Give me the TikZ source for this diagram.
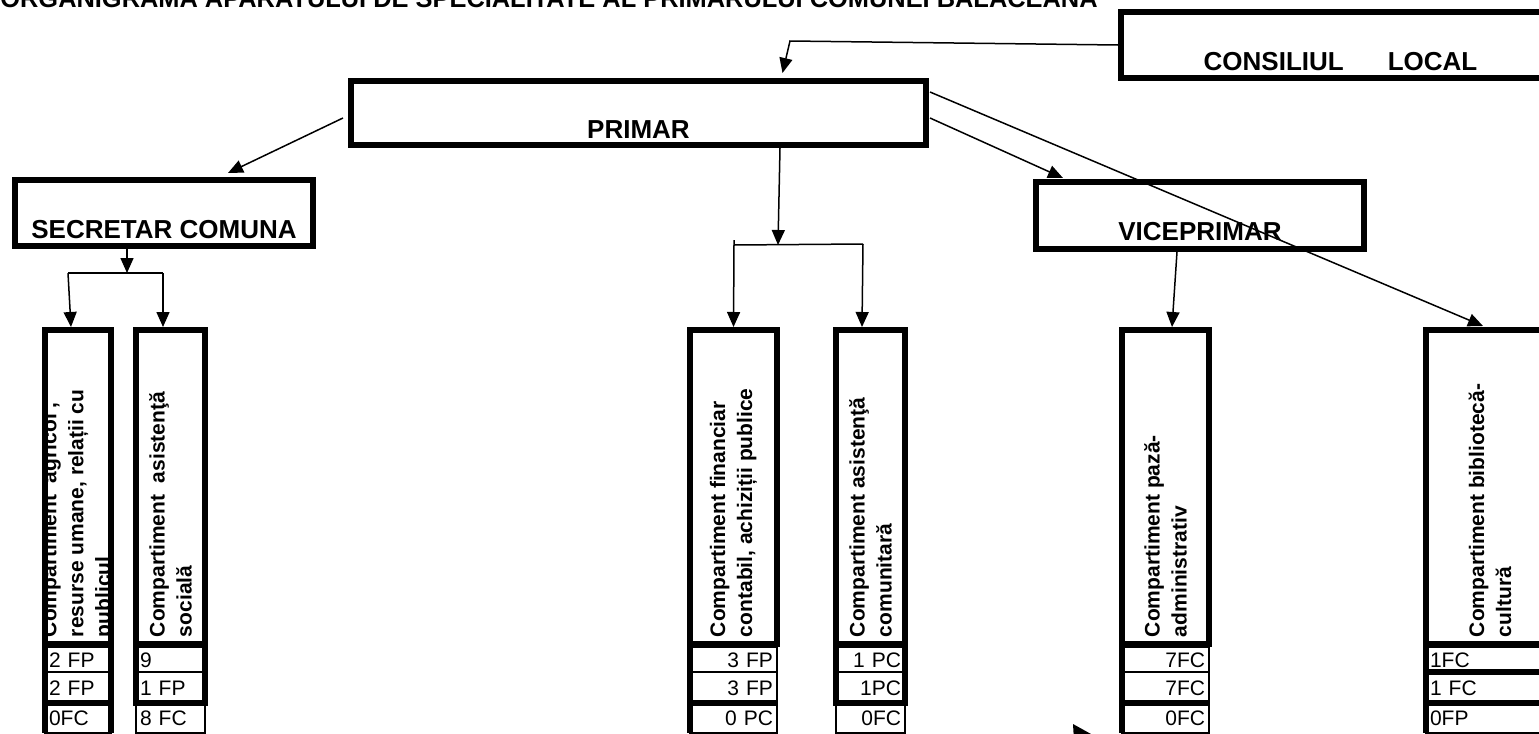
\documentclass[tikz,border=0pt]{standalone}
\usepackage{fontspec}
\setmainfont{Liberation Sans}
\usepackage{tikz}
\usetikzlibrary{arrows.meta, positioning, calc}

\tikzset{
    hdbox/.style={draw, line width=3pt, inner sep=0pt, minimum height=33pt,
                  text height=25pt, text depth=0pt,
                  font=\bfseries\fontsize{13}{15}\selectfont},
    lbl/.style={rotate=90, anchor=west, align=left, inner sep=0pt,
                font=\bfseries\fontsize{10.5}{13.5}\selectfont},
    colbox/.style 2 args={draw, line width=3pt, inner sep=0pt, minimum height=157pt,
                  path picture={\node[lbl] (#1) at ([yshift=2pt]path picture bounding box.south) {#2};}},
    cell/.style={draw, line width=1pt, outer sep=0pt, inner xsep=2pt, inner ysep=0pt,
                 text height=7.5pt, text depth=0pt, font=\fontsize{10.5}{12}\selectfont},
    conn/.style={line width=0.75pt, -{Triangle[length=7.5pt,width=6.5pt]}},
    frame/.style={line width=3pt}
}

\begin{document}
\begin{tikzpicture}[x=0.5pt, y=-0.5pt]
    \useasboundingbox (0,0) rectangle (1539,734);

    % title (cut at the top of the page)
    \node[anchor=base west, inner sep=0pt, font=\bfseries\fontsize{12.7}{14}\selectfont] (title) at (0,7)
        {ORGANIGRAMA APARATULUI DE SPECIALITATE AL PRIMARULUI COMUNEI BĂLĂCEANA};

    % head boxes
    \node[hdbox, minimum width=219.5pt] (con) at (1340.5,45) {CONSILIUL\hspace{22pt}LOCAL};
    \node[hdbox, minimum width=287.5pt, minimum height=32pt] (pri) at (638.5,113) {PRIMAR};
    \node[hdbox, minimum width=149pt] (sec) at (164,213) {SECRETAR COMUNA};
    \node[hdbox, minimum width=164pt, minimum height=33.5pt] (vic) at (1200,215.5) {VICEPRIMAR};

    % compartimente
    \node[colbox={agrtxt}{Compartiment\ \ agricol ,\\resurse umane, relații cu\\publicul}, minimum width=33pt] (agr) at (78,487) {};
    \node[colbox={soctxt}{Compartiment\ \ asistenţă\\socială}, minimum width=34.5pt] (soc) at (170.5,487) {};
    \node[colbox={fintxt}{Compartiment financiar\\contabil, achiziții publice}, minimum width=43.5pt] (fin) at (733.5,487) {};
    \node[colbox={comtxt}{Compartiment asistenţă\\comunitară}, minimum width=34.5pt] (com) at (870.5,487) {};
    \node[colbox={paztxt}{Compartiment pază-\\administrativ}, minimum width=43.5pt] (paz) at (1165.5,487) {};
    \node[colbox={bibtxt}{Compartiment bibliotecă-\\cultură}, minimum width=64pt] (bib) at (1490,487) {};

    % posturi
    \node[cell, text width=29pt, align=left, minimum height=12.5pt, anchor=north] (agr1) at (agr.south) {2 FP};
    \node[cell, text width=29pt, align=left, minimum height=15.5pt, anchor=north] (agr2) at (agr1.south) {2 FP};
    \node[cell, text width=29pt, align=left, minimum height=15pt, anchor=north] (agr3) at (agr2.south) {0FC};

    \node[cell, text width=30.5pt, align=left, minimum height=12.5pt, anchor=north] (soc1) at (soc.south) {9};
    \node[cell, text width=30.5pt, align=left, minimum height=15.5pt, anchor=north] (soc2) at (soc1.south) {1 FP};
    \node[cell, text width=30.5pt, align=left, minimum height=15pt, anchor=north] (soc3) at (soc2.south) {8 FC};

    \node[cell, text width=39.5pt, align=right, minimum height=12.5pt, anchor=north] (fin1) at (fin.south) {3 FP};
    \node[cell, text width=39.5pt, align=right, minimum height=15.5pt, anchor=north] (fin2) at (fin1.south) {3 FP};
    \node[cell, text width=39.5pt, align=right, minimum height=15pt, anchor=north] (fin3) at (fin2.south) {0 PC};

    \node[cell, text width=30.5pt, align=right, minimum height=12.5pt, anchor=north] (com1) at (com.south) {1 PC};
    \node[cell, text width=30.5pt, align=right, minimum height=15.5pt, anchor=north] (com2) at (com1.south) {1PC};
    \node[cell, text width=30.5pt, align=right, minimum height=15pt, anchor=north] (com3) at (com2.south) {0FC};

    \node[cell, text width=39.5pt, align=right, minimum height=12.5pt, anchor=north] (paz1) at (paz.south) {7FC};
    \node[cell, text width=39.5pt, align=right, minimum height=15.5pt, anchor=north] (paz2) at (paz1.south) {7FC};
    \node[cell, text width=39.5pt, align=right, minimum height=15pt, anchor=north] (paz3) at (paz2.south) {0FC};

    \node[cell, text width=60pt, align=left, minimum height=12.5pt, anchor=north] (bib1) at (bib.south) {1FC};
    \node[cell, text width=60pt, align=left, minimum height=15.5pt, anchor=north] (bib2) at (bib1.south) {1 FC};
    \node[cell, text width=60pt, align=left, minimum height=15pt, anchor=north] (bib3) at (bib2.south) {0FP};

    % thick table borders
    \draw[frame] (agr1.north west) -- (agr3.south west);
    \draw[frame] (agr1.north east) -- (agr3.south east);
    \draw[frame] (agr2.south west) -- (agr2.south east);
    \draw[frame] (soc1.north west) -- (soc2.south west) -- (soc2.south east) -- (soc1.north east);
    \draw[frame] (fin1.north west) -- (fin3.south west);
    \draw[frame] (fin2.south west) -- (fin2.south east);
    \draw[frame] (com1.north west) -- (com2.south west) -- (com2.south east) -- (com1.north east);
    \draw[frame] (paz1.north west) -- (paz3.south west);
    \draw[frame] (paz2.south west) -- (paz2.south east);
    \draw[frame] (bib1.north west) -- (bib3.south west);
    \draw[frame] (bib2.south west) -- (bib2.south east);
    \draw[frame] (bib1.south west) -- (bib1.south east);

    % branch points
    \coordinate (cpk) at (790,41);
    \coordinate (sbm) at (127,273);
    \coordinate (sbl) at (68,273);
    \coordinate (sbr) at (163,273);
    \coordinate (fbm) at (778,245);
    \coordinate (fbl) at (734,245);
    \coordinate (fbr) at (863,244);

    % connectors
    \draw[conn] (con.west) -- (cpk) -- ([shift={(72pt,2.5pt)}]pri.north);
    \draw[conn] ([shift={(-2.5pt,-2.5pt)}]pri.west) -- ([shift={(32pt,2pt)}]sec.north);
    \draw[conn] ([xshift=70.75pt]pri.south) -- (fbm);
    \draw[conn] ([shift={(0.5pt,-2.5pt)}]pri.east) -- ([shift={(-68.5pt,0.5pt)}]vic.north);
    \draw[conn] ([shift={(0.5pt,-7pt)}]pri.north east) -- ([shift={(-3.5pt,0.5pt)}]bib.north);

    \draw[conn] (sec.south -| sbm) -- (sbm);
    \draw[line width=0.75pt] (sbl) -- (sbr);
    \draw[conn] (sbl) -- ([xshift=-3.5pt]agr.north);
    \draw[conn] (sbr) -- (soc.north -| sbr);

    \draw[line width=0.75pt] ([yshift=2.5pt]fbl) -- (fbl) -- (fbr);
    \draw[conn] (fbl) -- (fin.north);
    \draw[conn] (fbr) -- ([xshift=-4.25pt]com.north);

    \draw[conn] ([xshift=-11.5pt]vic.south) -- ([xshift=3.25pt]paz.north);

    % stray arrow head at the bottom
    \fill (1073,724) -- (1091,734) -- (1074,741) -- cycle;
\end{tikzpicture}
\end{document}
